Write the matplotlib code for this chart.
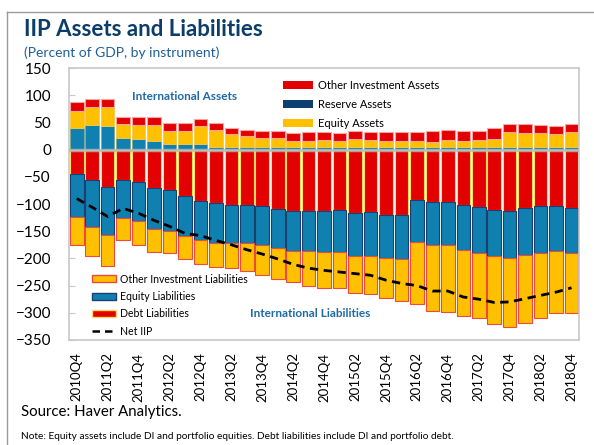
import numpy as np
import matplotlib
matplotlib.use("Agg")
import matplotlib.pyplot as plt
from matplotlib.patches import Patch
from matplotlib.lines import Line2D

plt.rcParams['font.family'] = ['Lato', 'DejaVu Sans']

# quarters 2010Q4 .. 2018Q4
quarters = [f"{y}Q{q}" for y in range(2010, 2019) for q in range(1, 5)][3:]

# assets (percent of GDP)
reserve_assets = [40, 46, 43, 22, 19, 16, 10, 11, 11, 5, 5, 4, 5, 5, 4, 4, 4,
                  4, 4, 4, 4, 4, 4, 4, 4, 4, 4, 4, 4, 4, 4, 4, 4]
equity_assets = [32, 32, 35, 25, 26, 30, 25, 24, 32, 32, 23, 21, 17, 16, 12, 12, 14,
                 12, 15, 13, 12, 12, 12, 10, 13, 12, 13, 16, 29, 26, 26, 24, 29]
other_inv_assets = [15, 15, 15, 13, 15, 14, 14, 14, 14, 12, 12, 11, 13, 13, 14, 17, 15,
                    14, 15, 16, 17, 17, 17, 20, 20, 19, 18, 20, 15, 17, 16, 15, 14]

# liabilities (percent of GDP, shown negative)
debt_liab = [45, 56, 68, 56, 60, 71, 74, 85, 95, 99, 101, 101, 103, 109, 112, 112, 112,
             111, 117, 115, 120, 120, 92, 96, 97, 102, 106, 111, 112, 108, 103, 103, 107]
equity_liab = [78, 86, 89, 70, 72, 75, 75, 74, 72, 72, 71, 71, 73, 72, 75, 75, 77,
               78, 79, 80, 80, 82, 78, 80, 79, 82, 84, 85, 88, 85, 87, 84, 83]
other_inv_liab = [53, 54, 57, 40, 43, 43, 41, 42, 44, 45, 46, 51, 54, 56, 56, 64, 65,
                  65, 67, 70, 73, 77, 114, 120, 122, 121, 120, 125, 127, 125, 120, 114, 111]

net_iip = [-90, -106, -123, -108, -117, -130, -141, -154, -158, -167, -175, -184, -192,
           -201, -211, -218, -222, -225, -228, -231, -240, -246, -250, -260, -260, -271,
           -275, -281, -280, -274, -268, -262, -254]

RED = '#e30000'
YELLOW = '#ffc000'
TEAL = '#1080b0'
NAVY = '#0d3f72'
TXTBLUE = '#1f6aa5'

x = np.arange(len(quarters))
ra = np.array(reserve_assets)
ea = np.array(equity_assets)
oa = np.array(other_inv_assets)
dl = -np.array(debt_liab)
el = -np.array(equity_liab)
ol = -np.array(other_inv_liab)

fig = plt.figure(figsize=(5.94, 4.45), dpi=100)
ax = fig.add_axes([0.1162, 0.236, 0.859, 0.611])

w = 0.88
# assets
ax.bar(x, ra, w, color=TEAL, edgecolor='#7fa88a', linewidth=0.6, zorder=2)
ax.bar(x, ea, w, bottom=ra, color=YELLOW, edgecolor='#f2c94c', linewidth=0.6, zorder=2)
ax.bar(x, oa, w, bottom=ra + ea, color=RED, edgecolor='#f6a5a5', linewidth=0.8, zorder=2)
# liabilities
ax.bar(x, dl, w, color=RED, edgecolor='#ffd966', linewidth=0.8, zorder=2)
ax.bar(x, el, w, bottom=dl, color=TEAL, edgecolor='#1b3f73', linewidth=0.8, zorder=2)
ax.bar(x, ol, w, bottom=dl + el, color=YELLOW, edgecolor='#ec4a3a', linewidth=0.8, zorder=2)

ax.axhline(0, color='#b8b8b8', linewidth=2.5, alpha=0.8, zorder=3)
ax.plot(x, net_iip, color='black', linestyle=(0, (3, 2)), linewidth=2.0, zorder=4)

ax.set_xlim(-0.5, len(quarters) - 0.5)
ax.set_ylim(-350, 150)
ax.set_yticks(np.arange(-350, 151, 50))
ax.set_xticks(x[::2])
ax.set_xticklabels(quarters[::2], rotation=90, fontsize=9.5)
ax.tick_params(axis='x', length=0, pad=9)
ax.tick_params(axis='y', direction='in', length=4, color='#c8c8c8', pad=13, labelsize=11)
for s in ax.spines.values():
    s.set_color('#c8c8c8')
    s.set_linewidth(1.2)

# legends
asset_handles = [Patch(facecolor=RED, edgecolor='none'),
                 Patch(facecolor=NAVY, edgecolor='none'),
                 Patch(facecolor=YELLOW, edgecolor='none')]
leg1 = ax.legend(asset_handles, ['Other Investment Assets', 'Reserve Assets', 'Equity Assets'],
                 loc='upper left', bbox_to_anchor=(0.405, 0.985), frameon=False,
                 fontsize=8, handlelength=2.7, handleheight=0.65, handletextpad=0.4,
                 labelspacing=0.72, borderpad=0.2)
ax.add_artist(leg1)
liab_handles = [Patch(facecolor=YELLOW, edgecolor='#ec4a3a'),
                Patch(facecolor=TEAL, edgecolor='#1b3f73'),
                Patch(facecolor=RED, edgecolor='#ffd966'),
                Line2D([0], [0], color='black', linestyle=(0, (3, 2)), linewidth=1.8)]
ax.legend(liab_handles, ['Other Investment Liabilities', 'Equity Liabilities',
                         'Debt Liabilities', 'Net IIP'],
          loc='lower left', bbox_to_anchor=(0.03, -0.015), frameon=False,
          fontsize=7.6, handlelength=2.3, handleheight=0.65, handletextpad=0.35,
          labelspacing=0.6, borderpad=0.2)

ax.text(0.226, 0.897, 'International Assets', transform=ax.transAxes, ha='center',
        va='center', fontsize=8.5, fontweight='bold', color=TXTBLUE)
ax.text(0.473, 0.096, 'International Liabilities', transform=ax.transAxes, ha='center',
        va='center', fontsize=8.5, fontweight='bold', color=TXTBLUE)

fig.text(0.04, 0.933, 'IIP Assets and Liabilities', fontsize=16, fontweight='bold',
         color='#0b3d6b', va='center')
fig.text(0.04, 0.881, '(Percent of GDP, by instrument)', fontsize=10,
         color='#1f5f99', va='center')
fig.text(0.035, 0.074, 'Source: Haver Analytics.', fontsize=10.8, va='center')
fig.text(0.035, 0.02, 'Note: Equity assets include DI and portfolio equities. '
         'Debt liabilities include DI and portfolio debt.', fontsize=7.3, va='center')

# outer frame lines (top and left)
fig.add_artist(Line2D([0.012, 0.012], [0, 0.973], color='#9a9a9a', linewidth=1.0))
fig.add_artist(Line2D([0.012, 1], [0.973, 0.973], color='#9a9a9a', linewidth=1.0))

fig.savefig('out.png', dpi=100)
